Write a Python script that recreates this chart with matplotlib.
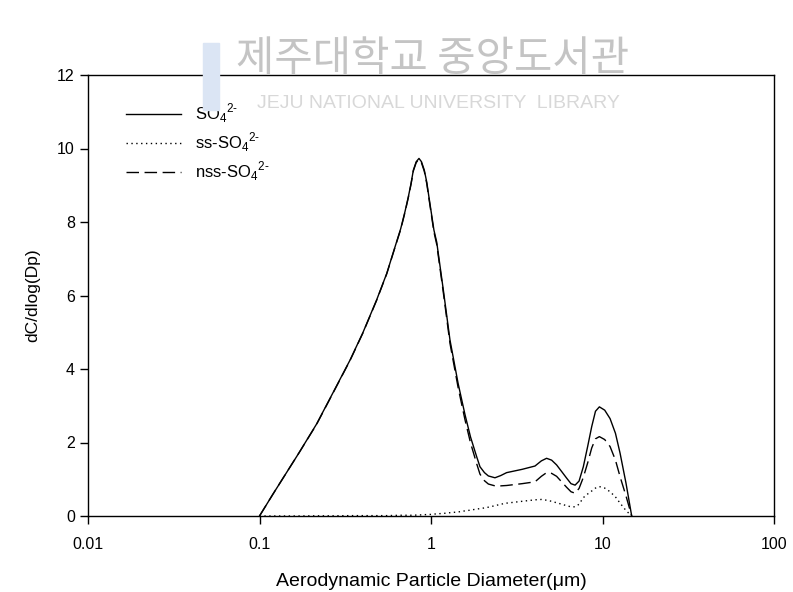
import matplotlib
matplotlib.use("Agg")
import matplotlib.pyplot as plt
from matplotlib.patches import Rectangle

plt.rcParams['font.family'] = ['Liberation Sans', 'Noto Sans CJK KR', 'DejaVu Sans']
plt.rcParams['mathtext.fontset'] = 'custom'
plt.rcParams['mathtext.rm'] = 'Liberation Sans'

# particle diameter (um)
dp = [0.1, 0.12, 0.138, 0.17, 0.215, 0.27, 0.337, 0.40, 0.482, 0.552,
      0.61, 0.666, 0.705, 0.738, 0.765, 0.789, 0.82, 0.851, 0.88, 0.914,
      0.945, 0.972, 1.04, 1.08, 1.18, 1.29, 1.44, 1.58, 1.70, 1.85,
      1.93, 2.05, 2.16, 2.36, 2.55, 2.76, 3.4, 4.04, 4.4, 4.72,
      5.05, 5.40, 5.8, 6.18, 6.55, 6.92, 7.3, 7.73, 8.2, 8.65,
      9.1, 9.59, 10.3, 11.07, 11.9, 12.66, 13.7, 14.8]

so4 = [0, 0.60, 1.05, 1.72, 2.50, 3.38, 4.24, 4.98, 5.88, 6.60,
       7.25, 7.82, 8.28, 8.69, 9.05, 9.41, 9.64, 9.73, 9.64, 9.41,
       9.08, 8.69, 7.78, 7.45, 6.15, 4.79, 3.60, 2.75, 2.15, 1.60,
       1.34, 1.18, 1.09, 1.04, 1.10, 1.18, 1.27, 1.36, 1.50, 1.57,
       1.52, 1.39, 1.20, 1.03, 0.88, 0.84, 0.95, 1.34, 1.90, 2.43,
       2.85, 2.97, 2.88, 2.65, 2.25, 1.71, 0.90, 0]

ss_so4 = [0, 0, 0, 0, 0.005, 0.005, 0.01, 0.01, 0.01, 0.01,
          0.015, 0.02, 0.02, 0.02, 0.02, 0.02, 0.025, 0.03, 0.03, 0.035,
          0.04, 0.04, 0.05, 0.06, 0.07, 0.09, 0.11, 0.14, 0.16, 0.19,
          0.20, 0.22, 0.24, 0.28, 0.32, 0.35, 0.40, 0.44, 0.45, 0.43,
          0.40, 0.36, 0.32, 0.28, 0.25, 0.25, 0.32, 0.50, 0.60, 0.68,
          0.76, 0.80, 0.76, 0.66, 0.52, 0.35, 0.15, 0]

nss_so4 = [0, 0.60, 1.05, 1.72, 2.49, 3.37, 4.23, 4.97, 5.87, 6.59,
           7.24, 7.80, 8.26, 8.67, 9.03, 9.39, 9.62, 9.70, 9.61, 9.38,
           9.04, 8.65, 7.73, 7.39, 6.08, 4.70, 3.49, 2.61, 1.99, 1.41,
           1.14, 0.96, 0.87, 0.82, 0.82, 0.83, 0.88, 0.93, 1.08, 1.18,
           1.16, 1.08, 0.92, 0.78, 0.66, 0.62, 0.75, 1.05, 1.45, 1.85,
           2.10, 2.16, 2.08, 1.89, 1.52, 1.07, 0.55, 0]

xticks = [0.01, 0.1, 1, 10, 100]
xticklabels = ['0.01', '0.1', '1', '10', '100']
yticks = [0, 2, 4, 6, 8, 10, 12]

fig = plt.figure(figsize=(7.93, 5.92), dpi=100)
ax = fig.add_axes([88 / 793, 1 - 516 / 592, (774 - 88) / 793, (516 - 75) / 592])

# watermark (library stamp)
fig.patches.append(Rectangle((203 / 793, 1 - 110 / 592), 16 / 793, 67 / 592,
                             transform=fig.transFigure, color='#dbe5f4',
                             zorder=0))
fig.text(433 / 793, 1 - 59 / 592, '제주대학교 중앙도서관', fontsize=30,
         color='#c4c4c4', ha='center', va='center',
         family=['Noto Sans CJK KR', 'DejaVu Sans'], zorder=0)
fig.text(438 / 793, 1 - 103 / 592, 'JEJU NATIONAL UNIVERSITY  LIBRARY',
         fontsize=14, color='#d8d8d8', ha='center', va='center', zorder=0)
ax.patch.set_alpha(0)

ax.plot(dp, so4, color='black', lw=1.0, ls='-', label=r'SO$_4$$^{2\text{-}}$')
ax.plot(dp, ss_so4, color='black', lw=1.0, ls=(0, (1, 2.5)), label=r'ss-SO$_4$$^{2\text{-}}$')
ax.plot(dp, nss_so4, color='black', lw=1.0, ls=(0, (9, 4)), label=r'nss-SO$_4$$^{2\text{-}}$')

ax.set_xscale('log')
ax.set_xlim(0.01, 100)
ax.set_ylim(0, 12)
ax.set_xticks(xticks)
ax.set_xticklabels(xticklabels)
ax.minorticks_off()
ax.set_yticks(yticks)
ax.tick_params(direction='out', length=6, width=1, labelsize=11.5, top=False, right=False)
ax.tick_params(axis='x', pad=9)
for s in ax.spines.values():
    s.set_linewidth(1.0)

ax.set_xlabel('Aerodynamic Particle Diameter(\u03bcm)', fontsize=14, labelpad=15)
ax.set_ylabel('dC/dlog(Dp)', fontsize=12.5, labelpad=12)

ax.legend(loc='upper left', bbox_to_anchor=(0.055, 0.94), frameon=False,
          handlelength=3.3, handletextpad=0.85, fontsize=12, labelspacing=0.33,
          borderaxespad=0, borderpad=0)

fig.savefig('out.png', dpi=100)
